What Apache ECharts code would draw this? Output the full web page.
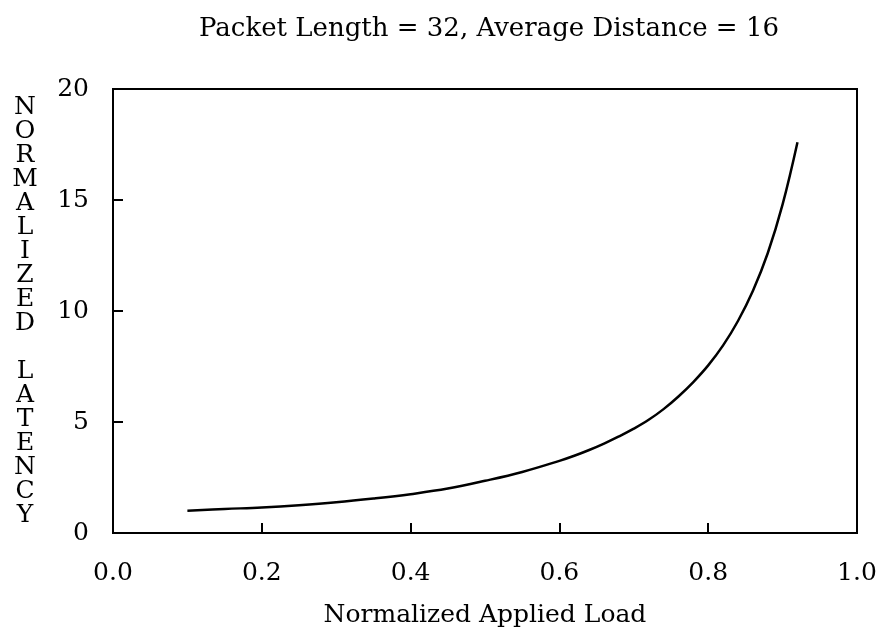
<!DOCTYPE html>
<html>
<head>
<meta charset="utf-8">
<script src="https://cdn.jsdelivr.net/npm/echarts@6/dist/echarts.min.js"></script>
<style>html,body{margin:0;padding:0;background:#fff}#c{width:882px;height:636px}</style>
</head>
<body>
<div id="c"></div>
<script>
const titleText = 'Packet Length = 32, Average Distance = 16';
const xName = 'Normalized Applied Load';
const yName = 'NORMALIZED LATENCY';
const xTicks = [0.0, 0.2, 0.4, 0.6, 0.8, 1.0];
const yTicks = [0, 5, 10, 15, 20];
const load = [0.10, 0.15, 0.20, 0.25, 0.30, 0.35, 0.40, 0.45, 0.50, 0.55, 0.60, 0.62, 0.64, 0.66, 0.68, 0.70, 0.72, 0.74, 0.76, 0.78, 0.80, 0.82, 0.84, 0.86, 0.88, 0.90, 0.92];
const latency = [1.00, 1.08, 1.15, 1.25, 1.38, 1.55, 1.75, 2.00, 2.35, 2.75, 3.25, 3.48, 3.74, 4.03, 4.35, 4.70, 5.10, 5.58, 6.15, 6.80, 7.55, 8.45, 9.55, 10.90, 12.60, 14.80, 17.60];

const font = 'DejaVu Serif';
const chart = echarts.init(document.getElementById('c'));
const yNameStacked = yName.split('').join('\n');
chart.setOption({
  animation: false,
  backgroundColor: '#fff',
  title: {
    text: titleText, left: 484, top: 11, textAlign: 'center',
    textStyle: {fontFamily: font, fontSize: 26, fontWeight: 'normal', color: '#000'}
  },
  grid: {left: 113, right: 25, top: 89, bottom: 103, show: true, borderColor: '#000', borderWidth: 2, backgroundColor: 'transparent'},
  xAxis: {
    type: 'value', min: xTicks[0], max: xTicks[xTicks.length - 1], interval: 0.2,
    name: xName, nameLocation: 'middle', nameGap: 70,
    nameTextStyle: {fontFamily: font, fontSize: 25, color: '#000'},
    axisLine: {show: true, lineStyle: {color: '#000', width: 2}},
    axisTick: {show: true, inside: true, length: 10, lineStyle: {color: '#000', width: 2}},
    axisLabel: {fontFamily: font, fontSize: 25, color: '#000', margin: 28, formatter: v => v.toFixed(1)},
    splitLine: {show: false}
  },
  yAxis: {
    type: 'value', min: yTicks[0], max: yTicks[yTicks.length - 1], interval: 5,
    name: yNameStacked, nameLocation: 'middle', nameGap: 88, nameRotate: 0,
    nameTextStyle: {fontFamily: font, fontSize: 25, color: '#000', lineHeight: 24, align: 'center', verticalAlign: 'middle'},
    axisLine: {show: true, lineStyle: {color: '#000', width: 2}},
    axisTick: {show: true, inside: true, length: 10, lineStyle: {color: '#000', width: 2}},
    axisLabel: {fontFamily: font, fontSize: 25, color: '#000', margin: 24},
    splitLine: {show: false}
  },
  series: [{
    type: 'line', data: load.map((x, i) => [x, latency[i]]),
    smooth: 0.4, showSymbol: false, lineStyle: {color: '#000', width: 2.5}
  }]
});
</script>
</body>
</html>
